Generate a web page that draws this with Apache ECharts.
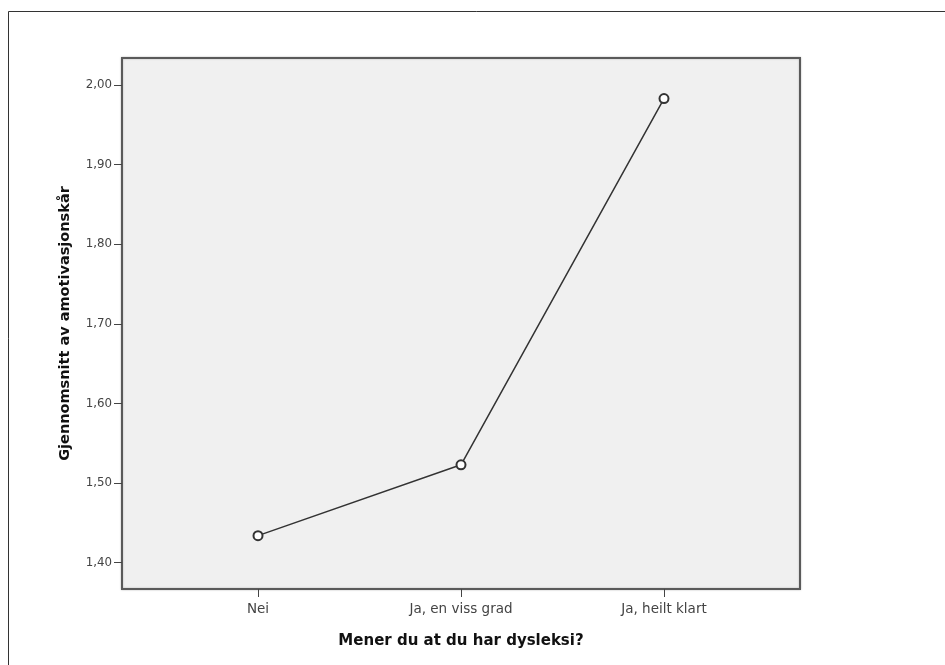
<!DOCTYPE html>
<html>
<head>
<meta charset="utf-8">
<script src="https://cdn.jsdelivr.net/npm/echarts@6/dist/echarts.min.js"></script>
<style>
html,body{margin:0;padding:0;background:#fff;}
#chart{width:945px;height:665px;}
</style>
</head>
<body>
<div id="chart"></div>
<script>
const categories = ['Nei', 'Ja, en viss grad', 'Ja, heilt klart'];
const meanValues = [1.434, 1.523, 1.983];
const yTicks = [1.4, 1.5, 1.6, 1.7, 1.8, 1.9, 2.0];
const xTitle = 'Mener du at du har dysleksi?';
const yTitle = 'Gjennomsnitt av amotivasjonskår';

const chart = echarts.init(document.getElementById('chart'), null, {renderer: 'canvas'});
const catIdx = categories.map((c, i) => i);
const seriesData = meanValues.map((v, i) => [i, v]);
const FONT = 'DejaVu Sans, Verdana, sans-serif';

chart.setOption({
  animation: false,
  backgroundColor: '#ffffff',
  grid: {
    left: 122, top: 58, right: 145, bottom: 76,
    show: true,
    backgroundColor: '#f0f0f0',
    borderColor: '#5a5a5a',
    borderWidth: 2,
    shadowColor: 'rgba(0,0,0,0.25)',
    shadowBlur: 2
  },
  xAxis: {
    type: 'value',
    min: -0.67,
    max: 2.67,
    name: xTitle,
    nameLocation: 'middle',
    nameGap: 45,
    nameTextStyle: {fontFamily: FONT, fontWeight: 'bold', fontSize: 15, color: '#111'},
    axisLine: {show: false, onZero: false},
    splitLine: {show: false},
    axisTick: {show: true, customValues: catIdx, length: 8, lineStyle: {color: '#444', width: 1}},
    axisLabel: {
      customValues: catIdx,
      formatter: v => categories[Math.round(v)],
      fontFamily: FONT, fontSize: 13.5, color: '#444', margin: 13
    }
  },
  yAxis: {
    type: 'value',
    min: 1.367,
    max: 2.034,
    name: yTitle,
    nameLocation: 'middle',
    nameGap: 49,
    nameRotate: 90,
    nameTextStyle: {fontFamily: FONT, fontWeight: 'bold', fontSize: 14.5, color: '#111'},
    axisLine: {show: false, onZero: false},
    splitLine: {show: false},
    axisTick: {show: true, customValues: yTicks, length: 8, lineStyle: {color: '#444', width: 1}},
    axisLabel: {
      customValues: yTicks,
      formatter: v => v.toFixed(2).replace('.', ','),
      fontFamily: FONT, fontSize: 11.8, color: '#444', margin: 10
    }
  },
  series: [{
    type: 'line',
    data: seriesData,
    symbol: 'emptyCircle',
    symbolSize: 9,
    lineStyle: {color: '#333', width: 1.5},
    itemStyle: {color: '#333', borderColor: '#444', borderWidth: 1.3},
    z: 5
  }],
  graphic: [
    {type: 'line', shape: {x1: 8.5, y1: 11.5, x2: 945, y2: 11.5}, style: {stroke: '#333', lineWidth: 1}},
    {type: 'line', shape: {x1: 8.5, y1: 11.5, x2: 8.5, y2: 665}, style: {stroke: '#333', lineWidth: 1}}
  ]
});
</script>
</body>
</html>
